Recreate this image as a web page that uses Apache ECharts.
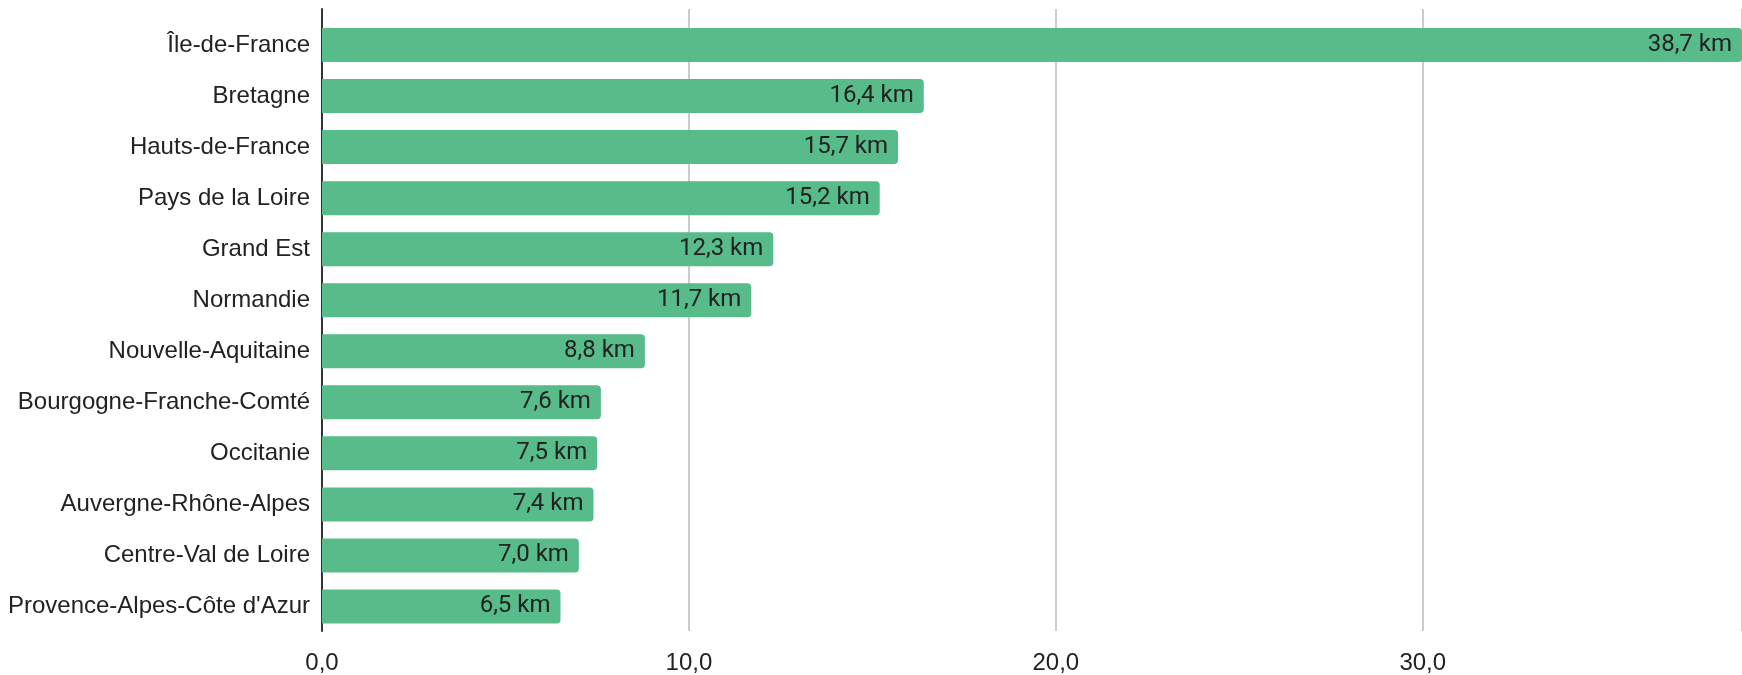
<!DOCTYPE html>
<html>
<head>
<meta charset="utf-8">
<script src="https://cdn.jsdelivr.net/npm/echarts@6/dist/echarts.min.js"></script>
<style>
html,body{margin:0;padding:0;background:#fff;}
#chart{width:1742px;height:675px;}
</style>
</head>
<body>
<div id="chart"></div>
<script>
const categories = ["Île-de-France","Bretagne","Hauts-de-France","Pays de la Loire","Grand Est","Normandie","Nouvelle-Aquitaine","Bourgogne-Franche-Comté","Occitanie","Auvergne-Rhône-Alpes","Centre-Val de Loire","Provence-Alpes-Côte d'Azur"];
const values = [38.7,16.4,15.7,15.2,12.3,11.7,8.8,7.6,7.5,7.4,7.0,6.5];
const unit = "km";
const axisMax = 38.7;
const axisInterval = 10;

const fmt = v => v.toFixed(1).replace('.', ',');

const chart = echarts.init(document.getElementById('chart'), null, {renderer:'canvas'});
chart.setOption({
  animation:false,
  backgroundColor:'#ffffff',
  grid:[
    {left:322, right:0, top:19.5, bottom:43},
    {left:322, right:0, top:9, bottom:35}
  ],
  xAxis:[
    {type:'value', gridIndex:0, min:0, max:axisMax, interval:axisInterval,
     axisLine:{show:false}, axisTick:{show:false}, axisLabel:{show:false}, splitLine:{show:false}},
    {type:'value', gridIndex:1, min:0, max:axisMax, interval:axisInterval,
     axisLine:{show:false}, axisTick:{show:false},
     axisLabel:{show:true, margin:20, fontFamily:'Liberation Sans, Arial, sans-serif', fontSize:24, color:'#222',
       showMaxLabel:false, formatter:v => fmt(v)},
     splitLine:{show:true, lineStyle:{color:'#cccccc', width:2}}}
  ],
  yAxis:[
    {type:'category', gridIndex:0, data:categories, inverse:true,
     axisLine:{show:false}, axisTick:{show:false},
     axisLabel:{margin:12, fontFamily:'Liberation Sans, Arial, sans-serif', fontSize:24, color:'#222'}},
    {type:'value', gridIndex:1, min:0, max:1,
     axisLine:{show:true, lineStyle:{color:'#333333', width:2}}, axisTick:{show:false},
     axisLabel:{show:false}, splitLine:{show:false}}
  ],
  series:[{
    type:'bar', xAxisIndex:0, yAxisIndex:0, data:values, barWidth:34,
    itemStyle:{color:'#57bb8a', borderRadius:[0,4,4,0]},
    label:{show:true, position:'insideRight', distance:10, color:'#222',
      fontFamily:'Roboto, sans-serif', fontSize:24,
      formatter:p => fmt(p.value) + ' ' + unit}
  }]
});
</script>
</body>
</html>
